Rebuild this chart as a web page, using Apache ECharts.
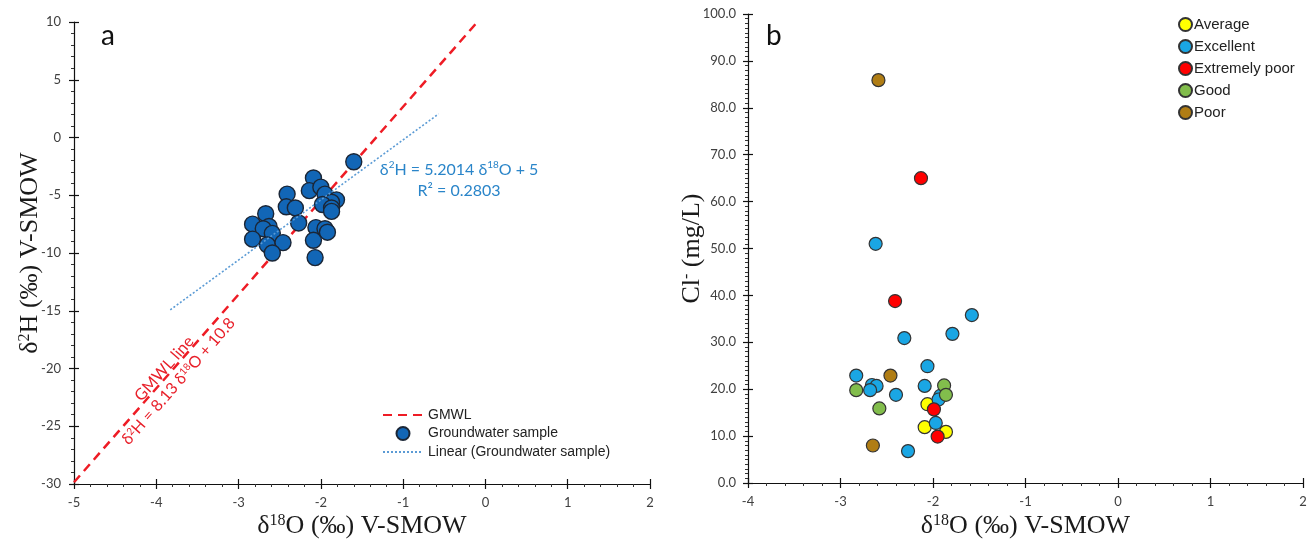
<!DOCTYPE html>
<html>
<head>
<meta charset="utf-8">
<script src="https://cdn.jsdelivr.net/npm/echarts@6/dist/echarts.min.js"></script>
<style>
  html, body { margin: 0; padding: 0; background: #ffffff; }
  #main { width: 1308px; height: 542px; }
</style>
</head>
<body>
<div id="main"></div>
<script>
// ---- Panel a: stable isotopes of the groundwater samples (‰ V-SMOW) ----
const sampleO18 = [-1.60, -2.09, -2.14, -2.00, -1.95, -1.81, -1.87, -1.98, -1.87, -1.87,
                   -2.41, -2.42, -2.31, -2.27, -2.67, -2.83, -2.63, -2.70, -2.59, -2.83,
                   -2.65, -2.46, -2.59, -2.06, -1.95, -1.92, -2.09, -2.07];
const sampleH2  = [-2.1, -3.5, -4.6, -4.3, -4.9, -5.4, -5.6, -5.8, -6.1, -6.4,
                   -4.9, -6.0, -6.1, -7.4, -6.6, -7.5, -7.7, -7.9, -8.3, -8.8,
                   -9.3, -9.1, -10.0, -7.8, -7.9, -8.2, -8.9, -10.4];

// Global meteoric water line: δ2H = 8.13 δ18O + 10.8
const gmwlSlope = 8.13;
const gmwlIntercept = 10.8;
const gmwlO18 = [-5, -0.0984];

// Least-squares fit of the samples: δ2H = 5.2014 δ18O + 5
const fitSlope = 5.2014;
const fitIntercept = 5;
const fitO18 = [-3.83, -0.57];

const xRangeA = [-5, 2];
const yRangeA = [-30, 10];

// ---- Panel b: chloride vs δ18O, grouped by water quality class ----
const qualityClasses = ['Average', 'Excellent', 'Extremely poor', 'Good', 'Poor'];
const qualityColors  = ['#ffff00', '#1aa6e4', '#ff0000', '#82bd4c', '#b07d14'];
const average       = [[-2.06, 16.8], [-2.09, 11.9], [-1.86, 10.9]];
const excellent     = [[-1.58, 35.8], [-1.79, 31.8], [-2.31, 30.9], [-2.06, 24.9], [-2.83, 22.9],
                       [-2.66, 20.9], [-2.61, 20.7], [-2.68, 19.8], [-2.40, 18.8], [-2.09, 20.7],
                       [-1.92, 18.6], [-1.94, 17.8], [-1.97, 12.8], [-2.27, 6.8], [-2.62, 51.0]];
const extremelyPoor = [[-2.41, 38.8], [-1.99, 15.7], [-1.95, 9.9], [-2.13, 65.0]];
const good          = [[-1.88, 20.8], [-1.86, 18.8], [-2.58, 15.9], [-2.83, 19.8]];
const poor          = [[-2.46, 22.9], [-2.65, 8.0], [-2.59, 85.9]];
const classData = [average, excellent, extremelyPoor, good, poor];

const xRangeB = [-4, 2];
const yRangeB = [0, 100];

// ---- shared styling ----
const tickFont = 'Lato, "Open Sans", sans-serif';
const serifFont = '"Liberation Serif", "DejaVu Serif", serif';
const supRich = {
  n: { fontFamily: serifFont, fontSize: 26, color: '#1a1a1a' },
  s: { fontFamily: serifFont, fontSize: 16, color: '#1a1a1a', verticalAlign: 'top' }
};
const tickLabel = (margin, extra) => Object.assign(
  { color: '#404040', fontFamily: tickFont, fontSize: 13, margin: margin }, extra || {});

function mainAxis(dim, gridIndex, range, interval, opts) {
  return Object.assign({
    type: 'value',
    gridIndex: gridIndex,
    min: range[0], max: range[1], interval: interval,
    position: dim === 'x' ? 'bottom' : 'left',
    axisLine: { show: true, onZero: false, lineStyle: { color: '#111', width: 1.2 } },
    axisTick: { show: true, inside: false, length: 5, lineStyle: { color: '#111', width: 1.2 } },
    minorTick: { show: true, splitNumber: 5, length: 3, lineStyle: { color: '#333', width: 1 } },
    splitLine: { show: false },
    axisLabel: tickLabel(12),
    nameLocation: 'middle',
    nameMoveOverlap: false,
    nameTextStyle: { rich: supRich }
  }, opts || {});
}

// inner half of the crossing major ticks
function innerTicks(dim, gridIndex, range, interval) {
  return {
    type: 'value',
    gridIndex: gridIndex,
    min: range[0], max: range[1], interval: interval,
    position: dim === 'x' ? 'bottom' : 'left',
    axisLine: { show: false, onZero: false },
    axisTick: { show: true, inside: true, length: 5, lineStyle: { color: '#111', width: 1.2 } },
    axisLabel: { show: false },
    splitLine: { show: false }
  };
}

const chart = echarts.init(document.getElementById('main'), null, { renderer: 'canvas' });

const lineEnds = (xs, m, b) => xs.map(x => [x, m * x + b]);
const noMarker = { opacity: 0 };
const legendFont = '"Liberation Sans", Arial, sans-serif';

const option = {
  animation: false,
  backgroundColor: '#ffffff',
  title: [
    { text: 'a', left: 96, top: 17, textStyle: { fontFamily: tickFont, fontSize: 28, fontWeight: 'normal', color: '#111' } },
    { text: 'b', left: 761, top: 17, textStyle: { fontFamily: tickFont, fontSize: 28, fontWeight: 'normal', color: '#111' } }
  ],
  grid: [
    { left: 74, top: 22, width: 576, height: 462, outerBoundsMode: 'none' },
    { left: 748, top: 14, width: 555, height: 469, outerBoundsMode: 'none' }
  ],
  xAxis: [
    mainAxis('x', 0, xRangeA, 1, { name: '{n|δ}{s|18}{n|O (‰) V-SMOW}', nameGap: 29 }),
    innerTicks('x', 0, xRangeA, 1),
    mainAxis('x', 1, xRangeB, 1, { name: '{n|δ}{s|18}{n|O (‰) V-SMOW}', nameGap: 30 }),
    innerTicks('x', 1, xRangeB, 1)
  ],
  yAxis: [
    mainAxis('y', 0, yRangeA, 5, {
      name: '{n|δ}{s|2}{n|H (‰) V-SMOW}', nameGap: 31,
      axisLabel: tickLabel(13)
    }),
    innerTicks('y', 0, yRangeA, 5),
    mainAxis('y', 1, yRangeB, 10, {
      name: '{n|Cl}{s|-}{n| (mg/L)}', nameGap: 43,
      minorTick: { show: true, splitNumber: 10, length: 3, lineStyle: { color: '#333', width: 1 } },
      axisLabel: tickLabel(12, { formatter: v => v.toFixed(1) })
    }),
    innerTicks('y', 1, yRangeB, 10)
  ],
  legend: [
    {
      data: [
        { name: 'GMWL', itemStyle: noMarker },
        { name: 'Groundwater sample' },
        { name: 'Linear (Groundwater sample)', itemStyle: noMarker }
      ],
      orient: 'vertical', left: 377, top: 403,
      itemWidth: 40, itemHeight: 13, itemGap: 4,
      textStyle: { fontFamily: legendFont, fontSize: 14, color: '#222' }
    },
    {
      data: qualityClasses,
      orient: 'vertical', left: 1173, top: 12,
      itemWidth: 13, itemHeight: 13, itemGap: 7,
      textStyle: { fontFamily: legendFont, fontSize: 15, color: '#222', padding: [0, 0, 0, -3] }
    }
  ],
  series: [
    {
      name: 'GMWL', type: 'line', xAxisIndex: 0, yAxisIndex: 0,
      data: lineEnds(gmwlO18, gmwlSlope, gmwlIntercept),
      symbol: 'none', z: 2,
      lineStyle: { color: '#ee1c25', width: 2.5, type: [9, 6] },
      itemStyle: { color: '#ee1c25' }
    },
    {
      name: 'Groundwater sample', type: 'scatter', xAxisIndex: 0, yAxisIndex: 0,
      data: sampleO18.map((x, i) => [x, sampleH2[i]]),
      symbolSize: 16, z: 3,
      itemStyle: { color: '#1266b6', borderColor: '#1b2636', borderWidth: 1.4, opacity: 1 }
    },
    {
      name: 'Linear (Groundwater sample)', type: 'line', xAxisIndex: 0, yAxisIndex: 0,
      data: lineEnds(fitO18, fitSlope, fitIntercept),
      symbol: 'none', z: 4,
      lineStyle: { color: '#5b9bd5', width: 1.6, type: [2, 2] },
      itemStyle: { color: '#5b9bd5' }
    }
  ].concat(qualityClasses.map((name, i) => ({
    name: name, type: 'scatter', xAxisIndex: 2, yAxisIndex: 2,
    data: classData[i], symbolSize: 13,
    itemStyle: { color: qualityColors[i], borderColor: '#333', borderWidth: 1.2, opacity: 1 }
  })))
};

chart.setOption(option);

// ---- text annotations anchored to the data coordinates of panel a ----
const px = pt => chart.convertToPixel({ gridIndex: 0 }, pt);
const blueText = {
  n: { fontFamily: tickFont, fontSize: 16, fill: '#2a85c9' },
  s: { fontFamily: tickFont, fontSize: 10, fill: '#2a85c9', verticalAlign: 'top' }
};
const redText = {
  n: { fontFamily: tickFont, fontSize: 16, fill: '#e8202a' },
  s: { fontFamily: tickFont, fontSize: 10, fill: '#e8202a', verticalAlign: 'top' }
};

const fitLabelAt = px([-0.32, -1.9]);
const gmwlEnds = lineEnds(gmwlO18, gmwlSlope, gmwlIntercept).map(px);
const gmwlAngle = Math.atan2(gmwlEnds[0][1] - gmwlEnds[1][1], gmwlEnds[1][0] - gmwlEnds[0][0]);
const gmwlLabelAt = px([-3.8, gmwlSlope * -3.8 + gmwlIntercept]);

chart.setOption({
  graphic: [
    {
      type: 'text', x: fitLabelAt[0], y: fitLabelAt[1],
      style: {
        text: '{n|δ}{s|2}{n|H = 5.2014 δ}{s|18}{n|O + 5}\n{n|R² = 0.2803}',
        rich: blueText, align: 'center', verticalAlign: 'top', lineHeight: 21
      }
    },
    {
      type: 'group', x: gmwlLabelAt[0], y: gmwlLabelAt[1], rotation: gmwlAngle,
      children: [
        {
          type: 'text', x: -5, y: -7,
          style: { text: '{n|GMWL line}', rich: redText, align: 'center', verticalAlign: 'middle' }
        },
        {
          type: 'text', x: -5, y: 12,
          style: { text: '{n|δ}{s|2}{n|H = 8.13 δ}{s|18}{n|O + 10.8}', rich: redText, align: 'center', verticalAlign: 'middle' }
        }
      ]
    }
  ]
});
</script>
</body>
</html>
